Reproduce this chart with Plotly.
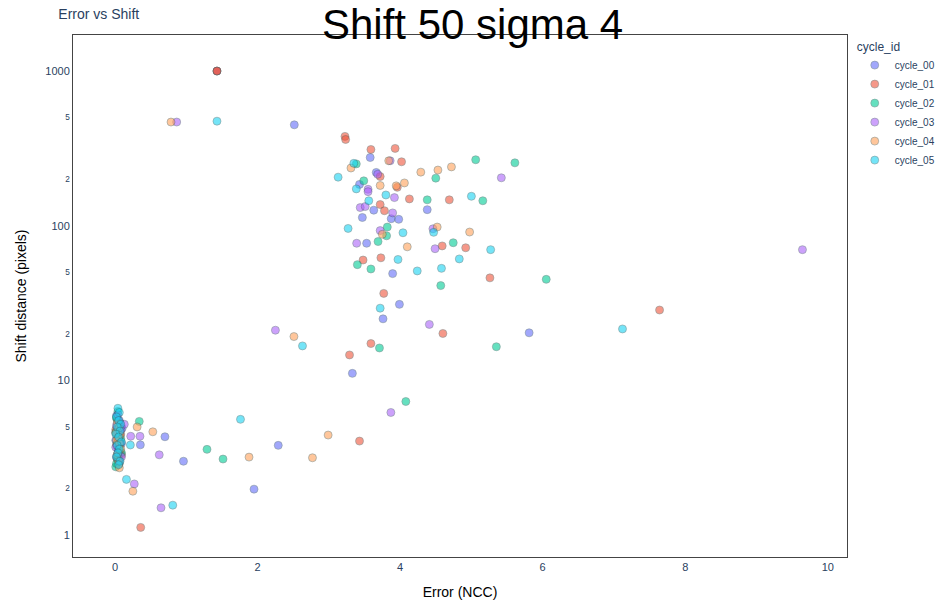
import plotly.graph_objects as go

cycles = ["cycle_00", "cycle_01", "cycle_02", "cycle_03", "cycle_04", "cycle_05"]
colors = ["#636efa", "#EF553B", "#00cc96", "#ab63fa", "#FFA15A", "#19d3f3"]

# Error (NCC) and shift distance (pixels) per cycle
c00_x = [1.43, 2.515, 3.58, 3.665, 3.43, 3.63, 3.875, 3.98, 4.38, 3.47, 3.53, 3.895, 3.99, 3.76, 5.81, 3.33, 2.29, 1.95, 0.70, 0.355, 0.96,
         0.02, 0.05, 0.08, 0.03, 0.06, 0.01, 0.09, 0.04, 0.07, 0.02, 0.05, 0.10]
c00_y = [1000, 449, 276, 221, 185, 126, 111, 110, 127, 113, 77, 49, 31, 25, 20.3, 11.1, 3.8, 1.98, 4.32, 3.83, 3.0,
         5.9, 5.4, 5.0, 4.7, 4.4, 4.1, 3.9, 3.6, 3.4, 3.2, 3.0, 4.9]

c01_x = [1.43, 1.43, 3.226, 3.235, 3.59, 3.93, 4.02, 3.72, 3.96, 4.13, 4.69, 3.72, 3.78, 4.59, 4.92, 3.73, 3.48, 5.26, 3.77, 4.60, 3.59, 3.29, 3.43, 7.64, 0.36,
         0.03, 0.06, 0.01, 0.08, 0.04, 0.07, 0.02, 0.05, 0.09, 0.03, 0.06]
c01_y = [1000, 1000, 378, 361, 311, 316, 259, 208, 177, 149, 147, 137, 125, 74, 72, 62, 60, 46, 36.5, 20.1, 17.3, 14.6, 4.05, 28.5, 1.12,
         5.6, 5.2, 4.8, 4.5, 4.3, 4.0, 3.8, 3.5, 3.3, 3.1, 2.9]

c02_x = [3.385, 5.06, 5.61, 4.50, 3.49, 4.38, 5.16, 3.82, 3.81, 3.69, 4.745, 3.40, 3.59, 6.05, 4.57, 5.35, 3.71, 4.08, 0.34, 1.29, 1.515, 0.01,
         0.04, 0.02, 0.07, 0.05, 0.01, 0.08, 0.03, 0.06, 0.09, 0.04, 0.02]
c02_y = [251, 267, 255, 203, 195, 147, 145, 98, 86, 79, 77.6, 56, 52.5, 45, 41, 16.5, 16.2, 7.3, 5.43, 3.58, 3.1, 2.76,
         6.3, 5.7, 5.3, 4.9, 4.6, 4.2, 3.9, 3.7, 3.4, 3.2, 2.9]

c03_x = [0.865, 3.86, 3.685, 5.42, 3.55, 3.55, 3.92, 3.44, 3.51, 3.895, 3.72, 4.46, 3.39, 4.49, 4.41, 2.25, 3.87, 9.645, 0.22, 0.35, 0.62, 0.27, 0.645, 0.13,
         0.04, 0.06, 0.02, 0.08, 0.03, 0.05, 0.07, 0.01, 0.04, 0.09, 0.06]
c03_y = [468, 263, 215, 204, 172, 166, 152, 131, 133, 121, 93, 95.5, 77, 71, 23, 21.1, 6.2, 70, 4.35, 4.35, 3.3, 2.14, 1.5, 5.2,
         6.0, 5.5, 5.1, 4.8, 4.5, 4.2, 3.9, 3.7, 3.4, 3.2, 3.0]

c04_x = [0.785, 3.84, 3.31, 4.29, 4.53, 4.72, 3.72, 3.945, 4.06, 3.75, 4.52, 4.975, 4.10, 2.51, 2.99, 2.77, 1.88, 0.31, 0.53, 0.25, 0.06,
         0.03, 0.05, 0.01, 0.07, 0.04, 0.02, 0.06, 0.08, 0.03, 0.05]
c04_y = [468, 263, 236, 222, 229, 240, 182, 181, 189, 88, 98, 91, 73, 19.2, 4.43, 3.16, 3.19, 5.0, 4.65, 1.92, 2.72,
         5.3, 4.9, 4.6, 4.4, 4.2, 4.1, 3.9, 3.6, 3.3, 3.0]

c05_x = [1.43, 3.35, 3.13, 3.385, 3.80, 5.00, 3.56, 3.27, 4.04, 4.47, 5.27, 4.83, 4.58, 4.24, 3.97, 3.72, 2.63, 7.12, 1.76, 0.215, 0.16, 0.81,
         0.04, 0.06, 0.02, 0.05, 0.08, 0.03, 0.07, 0.01, 0.05, 0.09, 0.03, 0.06, 0.04, 0.02, 0.07, 0.05]
c05_y = [474, 253, 206, 173, 158, 155, 145, 96, 90, 90.6, 70, 61, 53, 51, 60.5, 29.3, 16.7, 21.5, 5.6, 3.82, 2.29, 1.56,
         6.6, 6.2, 5.8, 5.5, 5.2, 5.0, 4.7, 4.5, 4.3, 4.0, 3.8, 3.6, 3.4, 3.2, 3.0, 2.85]

xs = [c00_x, c01_x, c02_x, c03_x, c04_x, c05_x]
ys = [c00_y, c01_y, c02_y, c03_y, c04_y, c05_y]

FONT = "Liberation Sans, Arial, sans-serif"

fig = go.Figure()
for name, col, x, y in zip(cycles, colors, xs, ys):
    fig.add_trace(go.Scatter(
        x=x, y=y, mode="markers", name=name,
        marker=dict(color=col, size=8, opacity=0.6,
                    line=dict(width=1, color="rgba(47,79,79,0.55)")),
    ))

fig.update_layout(
    width=941, height=600,
    template="plotly_white",
    margin=dict(l=73, r=94, t=35, b=43, autoexpand=False),
    title=dict(text="Error vs Shift", x=0.062, xanchor="left", y=0.977, yanchor="middle",
               font=dict(family=FONT, size=14, color="#2a3f5f")),
    legend=dict(title=dict(text="cycle_id", font=dict(family=FONT, size=12, color="#2a3f5f")),
                font=dict(family=FONT, size=10, color="#2a3f5f"),
                x=1.01, y=1.0, tracegroupgap=0),
    font=dict(family=FONT),
    annotations=[dict(text="Shift 50 sigma 4", xref="paper", yref="paper",
                      x=0.516, y=1.0, xanchor="center", yanchor="middle", yshift=11,
                      showarrow=False, font=dict(family=FONT, size=42, color="black"))],
)
fig.update_xaxes(title=dict(text="Error (NCC)", font=dict(family=FONT, size=14, color="black"), standoff=14),
                 range=[-0.59, 10.27], dtick=2, showgrid=False, zeroline=False,
                 showline=True, mirror=True, linecolor="#444", linewidth=1,
                 tickfont=dict(size=11, color="#2a3f5f"))
fig.update_yaxes(type="log", title=dict(text="Shift distance (pixels)", font=dict(family=FONT, size=14, color="black")),
                 range=[-0.142, 3.233], dtick="D2", showgrid=False, zeroline=False,
                 showline=True, mirror=True, linecolor="#444", linewidth=1,
                 tickfont=dict(size=11, color="#2a3f5f"))

fig.write_html("out.html")
